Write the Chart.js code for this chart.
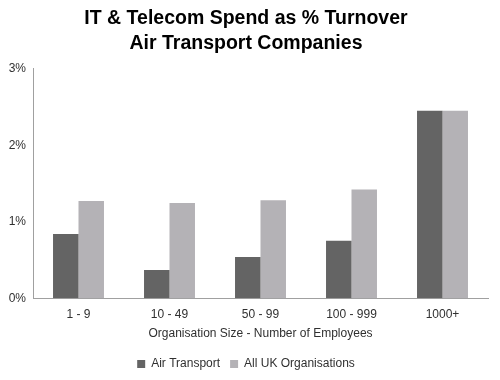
<!DOCTYPE html>
<html><head><meta charset="utf-8">
<script src="https://cdn.jsdelivr.net/npm/chart.js@4/dist/chart.umd.min.js"></script>
<style>html,body{margin:0;padding:0;background:#fff}#w{width:500px;height:380px}</style>
</head><body><div id="w"><canvas id="c" width="500" height="380"></canvas></div>
<script>
const categories = ["1 - 9", "10 - 49", "50 - 99", "100 - 999", "1000+"];
const airTransport = [0.84, 0.37, 0.54, 0.75, 2.45];
const allUK = [1.27, 1.245, 1.28, 1.42, 2.45];
const yTicks = [0, 1, 2, 3];
const seriesNames = ["Air Transport", "All UK Organisations"];
const titleLines = ["IT & Telecom Spend as % Turnover", "Air Transport Companies"];
const xTitle = "Organisation Size - Number of Employees";

const font = "'Liberation Sans', Arial, sans-serif";
new Chart(document.getElementById('c'), {
  type: 'bar',
  data: {
    labels: categories,
    datasets: [
      {label: seriesNames[0], data: airTransport, backgroundColor: '#646464', categoryPercentage: 0.56, barPercentage: 1},
      {label: seriesNames[1], data: allUK, backgroundColor: '#b4b2b6', categoryPercentage: 0.56, barPercentage: 1}
    ]
  },
  options: {
    responsive: false,
    animation: false,
    layout: {padding: {left: 4, right: 12, top: 6, bottom: 0}},
    plugins: {
      title: {display: true, text: titleLines, color: '#000', font: {family: font, size: 19.5, weight: 'bold', lineHeight: 1.3}, padding: {top: 0, bottom: 12}},
      legend: {position: 'bottom', labels: {boxWidth: 8, boxHeight: 8, padding: 10, color: '#303030', font: {family: font, size: 12}}},
      tooltip: {enabled: false}
    },
    scales: {
      x: {
        grid: {display: false, drawTicks: false},
        border: {color: '#a0a0a0', width: 1},
        ticks: {color: '#303030', font: {family: font, size: 12}, padding: 9},
        title: {display: true, text: xTitle, color: '#303030', font: {family: font, size: 12}, padding: {top: -4, bottom: 7}}
      },
      y: {
        min: 0, max: 3,
        afterBuildTicks: s => { s.ticks = yTicks.map(v => ({value: v})); },
        afterFit: s => { s.width = 29; },
        grid: {display: false, drawOnChartArea: false, drawTicks: true, tickLength: 4, tickColor: '#a0a0a0'},
        border: {color: '#a0a0a0', width: 1},
        ticks: {color: '#303030', font: {family: font, size: 12}, padding: 3, callback: v => v + '%'}
      }
    }
  }
});
</script></body></html>
